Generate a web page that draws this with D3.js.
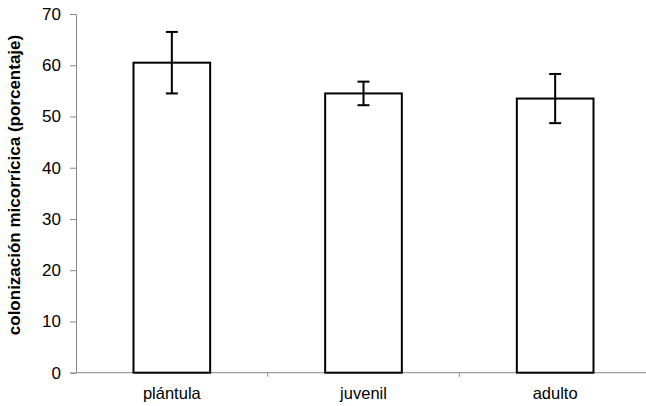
<!DOCTYPE html>
<html><head><meta charset="utf-8">
<script src="https://cdn.jsdelivr.net/npm/d3@7"></script>
<style>body{margin:0;background:#fff}svg{display:block}text{font-family:"Liberation Sans",Arial,sans-serif}</style>
</head><body>
<svg id="c" width="646" height="406"></svg>
<script>
const categories = ["plántula", "juvenil", "adulto"];
const values = [60.5, 54.5, 53.5];
const errors = [6.0, 2.3, 4.8];
const yTicks = [0, 10, 20, 30, 40, 50, 60, 70];
const yTitle = "colonización micorrícica (porcentaje)";

const svg = d3.select("#c");
const x0 = 76, x1 = 651, yTop = 14, yBot = 372.7;
const x = d3.scaleBand().domain(categories).range([x0, x1]).paddingInner(0.6).paddingOuter(0.3);
const xs = d3.scaleBand().domain(categories).range([x0, x1]);
const y = d3.scaleLinear().domain([0, 70]).range([yBot, yTop]);

// y axis
const ya = svg.append("g").attr("transform", `translate(${x0},0)`)
  .call(d3.axisLeft(y).tickValues(yTicks).tickSize(6).tickPadding(9));
ya.select(".domain").attr("stroke", "#888");
ya.selectAll(".tick line").attr("stroke", "#888");
ya.selectAll(".tick text").attr("font-size", 17).attr("fill", "#000");

// x axis line
svg.append("line").attr("x1", x0).attr("x2", x1).attr("y1", yBot).attr("y2", yBot).attr("stroke", "#888");
// boundary ticks
svg.selectAll(".xt").data(categories.slice(1)).enter().append("line")
  .attr("x1", d => xs(d)).attr("x2", d => xs(d)).attr("y1", yBot).attr("y2", yBot + 4).attr("stroke", "#888");
svg.selectAll(".xl").data(categories).enter().append("text")
  .attr("x", d => xs(d) + xs.bandwidth() / 2).attr("y", 399)
  .attr("text-anchor", "middle").attr("font-size", 16.5).text(d => d);

// bars
svg.selectAll(".bar").data(categories).enter().append("rect")
  .attr("x", d => x(d)).attr("width", x.bandwidth())
  .attr("y", (d, i) => y(values[i])).attr("height", (d, i) => yBot - y(values[i]))
  .attr("fill", "#fff").attr("stroke", "#000").attr("stroke-width", 2);

// error bars
categories.forEach((c, i) => {
  const cx = x(c) + x.bandwidth() / 2;
  const g = svg.append("g").attr("stroke", "#000").attr("stroke-width", 2);
  g.append("line").attr("x1", cx).attr("x2", cx).attr("y1", y(values[i] + errors[i])).attr("y2", y(values[i] - errors[i]));
  [values[i] + errors[i], values[i] - errors[i]].forEach(v => {
    g.append("line").attr("x1", cx - 6).attr("x2", cx + 6).attr("y1", y(v)).attr("y2", y(v));
  });
});

// title
svg.append("text").attr("transform", `translate(19.5,185) rotate(-90)`)
  .attr("text-anchor", "middle").attr("font-size", 17).attr("font-weight", "bold").text(yTitle);
</script>
</body></html>
